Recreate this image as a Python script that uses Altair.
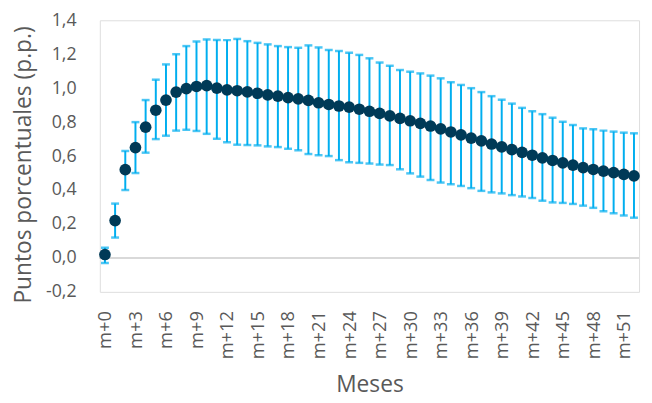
import altair as alt
import pandas as pd

months = list(range(53))
mid = [0.02, 0.22, 0.52, 0.65, 0.77, 0.87, 0.93, 0.977, 0.997, 1.01,
       1.015, 1.0, 0.99, 0.985, 0.978, 0.97, 0.961, 0.953, 0.944, 0.937,
       0.928, 0.914, 0.904, 0.895, 0.888, 0.876, 0.864, 0.851, 0.837, 0.822,
       0.808, 0.793, 0.777, 0.76, 0.742, 0.725, 0.706, 0.69, 0.671, 0.654,
       0.638, 0.622, 0.605, 0.589, 0.574, 0.56, 0.547, 0.532, 0.521, 0.511,
       0.502, 0.492, 0.483]
upper = [0.06, 0.32, 0.63, 0.80, 0.93, 1.05, 1.14, 1.20, 1.248, 1.275,
         1.287, 1.284, 1.283, 1.29, 1.277, 1.267, 1.258, 1.248, 1.242, 1.238,
         1.252, 1.24, 1.225, 1.219, 1.209, 1.196, 1.176, 1.151, 1.132, 1.107,
         1.097, 1.087, 1.074, 1.058, 1.035, 1.019, 1.0, 0.977, 0.953, 0.932,
         0.909, 0.884, 0.864, 0.847, 0.826, 0.802, 0.783, 0.763, 0.758, 0.75,
         0.744, 0.738, 0.734]
lower = [-0.03, 0.12, 0.40, 0.50, 0.62, 0.70, 0.72, 0.75, 0.755, 0.748,
         0.731, 0.702, 0.682, 0.667, 0.665, 0.663, 0.657, 0.653, 0.643, 0.634,
         0.612, 0.605, 0.60, 0.576, 0.564, 0.56, 0.556, 0.55, 0.547, 0.522,
         0.498, 0.479, 0.459, 0.444, 0.434, 0.424, 0.411, 0.395, 0.386, 0.38,
         0.37, 0.362, 0.353, 0.337, 0.327, 0.324, 0.318, 0.308, 0.295, 0.275,
         0.263, 0.25, 0.237]
tick_months = list(range(0, 52, 3))
y_ticks = [-0.2, 0.0, 0.2, 0.4, 0.6, 0.8, 1.0, 1.2, 1.4]

df = pd.DataFrame({"mes": months, "valor": mid, "sup": upper, "inf": lower})

FONT = "Open Sans"
GREY = "#595959"
BAR = "#00AEEF"
DOT = "#003A57"

x_enc = alt.X(
    "mes:Q",
    scale=alt.Scale(domain=[-0.5, 52.5], nice=False, zero=False),
    axis=alt.Axis(
        values=tick_months,
        labelExpr="'m+' + datum.value",
        labelAngle=-90,
        labelAlign="right",
        labelBaseline="middle",
        labelPadding=19,
        labelFontSize=18.5,
        labelColor=GREY,
        labelFont=FONT,
        ticks=False,
        domain=False,
        grid=False,
        title="Meses",
        titleFont=FONT,
        titleFontSize=23,
        titleFontWeight="normal",
        titleColor=GREY,
        titleX=273,
        titleY=101,
        titleAlign="center",
        titleBaseline="alphabetic",
    ),
)

y_scale = alt.Scale(domain=[-0.2, 1.4], nice=False, zero=False)
y_axis = alt.Axis(
    values=y_ticks,
    labelExpr="(datum.value < 0 ? '-' : '') + replace(format(abs(datum.value), '.1f'), '.', ',')",
    labelPadding=24,
    labelFontSize=18,
    labelColor=GREY,
    labelFont=FONT,
    ticks=False,
    domain=False,
    grid=False,
    title="Puntos porcentuales (p.p.)",
    titleFont=FONT,
    titleFontSize=23,
    titleFontWeight="normal",
    titleColor=GREY,
    titleAngle=-90,
    titleX=-77,
    titleY=146,
    titleAlign="center",
    titleBaseline="middle",
)

base = alt.Chart(df)

zero = base.mark_rule(color="#d9d9d9", strokeWidth=1.5).encode(
    y=alt.datum(0, scale=y_scale, axis=y_axis),
    x=alt.value(0),
    x2=alt.value(546),
)

bars = base.mark_rule(color=BAR, strokeWidth=2).encode(
    x=x_enc,
    y=alt.Y("inf:Q", scale=y_scale, axis=y_axis),
    y2="sup:Q",
)

cap_hi = base.mark_tick(color=BAR, orient="horizontal", size=8, thickness=2.5).encode(
    x=x_enc, y=alt.Y("sup:Q", scale=y_scale, axis=y_axis)
)
cap_lo = base.mark_tick(color=BAR, orient="horizontal", size=8, thickness=2.5).encode(
    x=x_enc, y=alt.Y("inf:Q", scale=y_scale, axis=y_axis)
)

dots = base.mark_circle(color=DOT, size=140, opacity=1).encode(
    x=x_enc, y=alt.Y("valor:Q", scale=y_scale, axis=y_axis)
)

chart = (
    alt.layer(zero, bars, cap_hi, cap_lo, dots)
    .properties(
        width=546,
        height=275,
        autosize=alt.AutoSizeParams(type="none"),
        padding={"left": 93, "top": 10, "right": 5, "bottom": 102},
    )
    .configure_view(stroke=None)
    .configure(background="white")
)

chart.save("out.html", embed_options={"renderer": "svg", "actions": False})
